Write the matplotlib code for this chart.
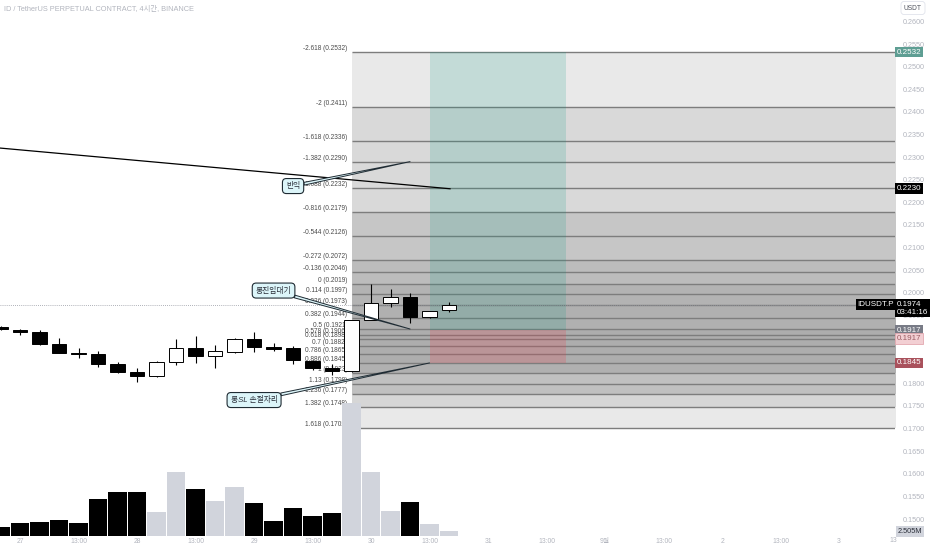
import numpy as np
import matplotlib.pyplot as plt
from matplotlib.patches import Rectangle

plt.rcParams['font.family'] = ['Liberation Sans', 'Noto Sans CJK KR']

# 4h candles, index 0 = 27th 01:00
candle_idx = list(range(-1, 23))
opens  = [0.1925, 0.1918, 0.1913, 0.1886, 0.1868, 0.1864, 0.1842, 0.1824, 0.1817, 0.1846, 0.1879, 0.1860,
          0.1869, 0.1897, 0.1881, 0.1877, 0.1849, 0.1834, 0.1827, 0.1940, 0.1977, 0.1990, 0.1947, 0.1962]
closes = [0.1919, 0.1914, 0.1887, 0.1868, 0.1864, 0.1843, 0.1824, 0.1817, 0.1847, 0.1879, 0.1860, 0.1871,
          0.1899, 0.1881, 0.1876, 0.1851, 0.1834, 0.1827, 0.1940, 0.1977, 0.1990, 0.1946, 0.1960, 0.1974]
highs  = [0.1927, 0.1921, 0.1918, 0.1900, 0.1877, 0.1871, 0.1848, 0.1833, 0.1849, 0.1897, 0.1905, 0.1884,
          0.1901, 0.1913, 0.1890, 0.1882, 0.1851, 0.1842, 0.1941, 0.2019, 0.2008, 0.2000, 0.1960, 0.1980]
lows   = [0.1917, 0.1906, 0.1885, 0.1866, 0.1857, 0.1835, 0.1822, 0.1803, 0.1815, 0.1841, 0.1844, 0.1833,
          0.1868, 0.1869, 0.1871, 0.1842, 0.1830, 0.1818, 0.1826, 0.1940, 0.1969, 0.1934, 0.1944, 0.1957]
volumes = [5.1, 7.0, 7.5, 8.8, 7.0, 20.5, 24.4, 24.0, 13.2, 35.4, 25.9, 19.1,
           27.1, 18.3, 8.1, 15.2, 11.0, 12.5, 73.0, 35.4, 13.9, 18.9, 6.6, 2.505]

tick_pos = [0, 3, 6, 9, 12, 15, 18, 21, 24, 27, 30, 33, 36, 39, 42]
tick_labels = ['27', '13:00', '28', '13:00', '29', '13:00', '30', '13:00', '31', '13:00',
               '9월', '13:00', '2', '13:00', '3']
price_ticks = [0.1500, 0.1550, 0.1600, 0.1650, 0.1700, 0.1750, 0.1800, 0.1850, 0.1900, 0.1950, 0.2000,
               0.2050, 0.2100, 0.2150, 0.2200, 0.2250, 0.2300, 0.2350, 0.2400, 0.2450, 0.2500, 0.2550, 0.2600]
hidden_ticks = [0.1850, 0.1900]   # covered by the position tags

# fibonacci extension drawn from index 17
fib_start = 17
fib_ratios = ['-2.618', '-2', '-1.618', '-1.382', '-1.088', '-0.816', '-0.544', '-0.272', '-0.136', '0',
              '0.114', '0.236', '0.382', '0.5', '0.578', '0.618', '0.7', '0.786', '0.886', '1',
              '1.13', '1.236', '1.382', '1.618']
fib_prices = [0.2532, 0.2411, 0.2336, 0.2290, 0.2232, 0.2179, 0.2126, 0.2072, 0.2046, 0.2019,
              0.1997, 0.1973, 0.1944, 0.1921, 0.1906, 0.1898, 0.1882, 0.1865, 0.1845, 0.1823,
              0.1798, 0.1777, 0.1748, 0.1702]
fib_fills = ['#e9e9e9', '#d9d9d9', '#d9d9d9', '#d9d9d9', '#d9d9d9', '#c6c6c6', '#c6c6c6', '#bcbcbc',
             '#bcbcbc', '#b3b3b3', '#b3b3b3', '#b0b0b0', '#b0b0b0', '#adadad', '#adadad', '#adadad',
             '#adadad', '#adadad', '#b0b0b0', '#c0c0c0', '#c0c0c0', '#d6d6d6', '#e9e9e9']

# long position tool
pos_x = [21, 28]
entry, take_profit, stop_loss = 0.1917, 0.2532, 0.1845

# trend line
trend_x = [-1.03, 22.05]
trend_y = [0.2320, 0.2230]

# callouts: text, box centre, target
callouts = [
    ('반익', (14.0, 0.2236), (20.0, 0.2290)),
    ('롱진입대기', (13.0, 0.2005), (20.0, 0.1920)),
    ('롱SL 손절자리', (12.0, 0.1763), (21.0, 0.1845)),
]

fig = plt.figure(figsize=(9.32, 5.5), dpi=100)
ax = fig.add_axes([0, 14 / 550, 895 / 932, 536 / 550])
ax2 = ax.twinx()
ax.set_xlim(-1.03, 44.87)
ax.set_ylim(0.146246, 0.264726)

for k in range(len(fib_fills)):
    ax.fill_between([fib_start, 60], fib_prices[k + 1], fib_prices[k], color=fib_fills[k], lw=0, zorder=1)
ax.hlines(fib_prices, fib_start, 60, colors='#7d7d7d', lw=1.0, zorder=2)
for r, p in zip(fib_ratios, fib_prices):
    ax.text(fib_start - 0.22, p, '{} ({:.4f})'.format(r, p), ha='right', va='bottom',
            fontsize=4.7, color='#4a4a4a', zorder=3)

ax.add_patch(Rectangle((pos_x[0], entry), pos_x[1] - pos_x[0], take_profit - entry,
                       fc=(8 / 255, 153 / 255, 129 / 255, 0.17), ec='none', zorder=3.5))
ax.add_patch(Rectangle((pos_x[0], stop_loss), pos_x[1] - pos_x[0], entry - stop_loss,
                       fc=(242 / 255, 54 / 255, 69 / 255, 0.2), ec='none', zorder=3.5))

# current price dotted line
ax.axhline(closes[-1], color='#9598a1', lw=0.6, ls=(0, (1, 1.5)), zorder=3.6)

# candles
o = np.array(opens)
c = np.array(closes)
up = c >= o
ax.vlines(candle_idx, lows, highs, color='black', lw=0.8, zorder=4)
body_lo = np.minimum(o, c)
body_h = np.maximum(np.abs(c - o), 0.00008)
ax.bar(candle_idx, body_h, bottom=body_lo, width=0.76,
       color=np.where(up, 'white', 'black'), edgecolor='black', lw=0.7, zorder=5)

ax.plot(trend_x, trend_y, color='black', lw=0.9, zorder=6)

for txt, box, tgt in callouts:
    ax.annotate(txt, xy=tgt, xytext=box, fontsize=5.6, style='italic', color='#2a2e39',
                ha='center', va='center', zorder=8,
                bbox=dict(boxstyle='round,pad=0.45,rounding_size=0.5', fc='#dcf5f9', ec='#1f2b33', lw=0.8),
                arrowprops=dict(arrowstyle='wedge,tail_width=0.35,shrink_factor=0.5',
                                fc='#dcf5f9', ec='#1f2b33', lw=0.7, shrinkA=0, shrinkB=0))

# axes styling
for s in ax.spines.values():
    s.set_visible(False)
ax.set_yticks(price_ticks)
ax.set_yticklabels(['' if v in hidden_ticks else '{:.4f}'.format(v) for v in price_ticks])
ax.yaxis.tick_right()
ax.tick_params(axis='y', length=0, pad=5.5, labelsize=5.2, labelcolor='#b2b5be')
ax.set_xticks(tick_pos, tick_labels)
ax.tick_params(axis='x', length=0, pad=1.2, labelsize=4.9, labelcolor='#b2b5be')


def price_tag(y, text, fc, tc, ec='none', x=1.002, ha='left'):
    ax.text(x, y, text, transform=ax.get_yaxis_transform(), ha=ha, va='center', fontsize=5.8,
            color=tc, zorder=10, clip_on=False, linespacing=1.2,
            bbox=dict(boxstyle='square,pad=0.22', fc=fc, ec=ec, lw=0.6))


price_tag(take_profit, '0.2532', '#5e9e93', 'white')
price_tag(trend_y[-1], '0.2230', 'black', 'white')
price_tag(closes[-1] - 0.0008, '0.1974\n03:41:16', 'black', 'white')
price_tag(closes[-1], 'IDUSDT.P', 'black', 'white', x=0.999, ha='right')
price_tag(entry, '0.1917', '#787b86', 'white')
price_tag(entry - 0.0018, '0.1917', '#f2cfd3', '#9a5a62', ec='#e3a9b0')
price_tag(stop_loss, '0.1845', '#a9515c', 'white')

# volume
ax2.set_ylim(0, 536 * 0.55)
ax2.bar(candle_idx, volumes, width=0.95, color=np.where(up, '#d1d4dc', 'black'), lw=0)
ax2.set_yticks([])
for s in ax2.spines.values():
    s.set_visible(False)
ax2.text(1.003, volumes[-1], '2.505M', transform=ax2.get_yaxis_transform(), ha='left', va='center',
         fontsize=5.3, color='#2a2e39', clip_on=False,
         bbox=dict(boxstyle='square,pad=0.22', fc='#d1d4dc', ec='none'))

fig.text(4 / 932, 1 - 9 / 550, 'ID / TetherUS PERPETUAL CONTRACT, 4시간, BINANCE',
         fontsize=5.3, color='#b2b5be', va='center')
fig.text(913 / 932, 1 - 8 / 550, 'USDT', fontsize=4.8, color='#50535e', ha='center', va='center',
         bbox=dict(boxstyle='round,pad=0.45', fc='white', ec='#e0e3eb', lw=0.6))
fig.text(893 / 932, 9 / 550, '13', fontsize=4.9, color='#b2b5be', ha='center', va='center')

fig.savefig('out.png', dpi=100)
